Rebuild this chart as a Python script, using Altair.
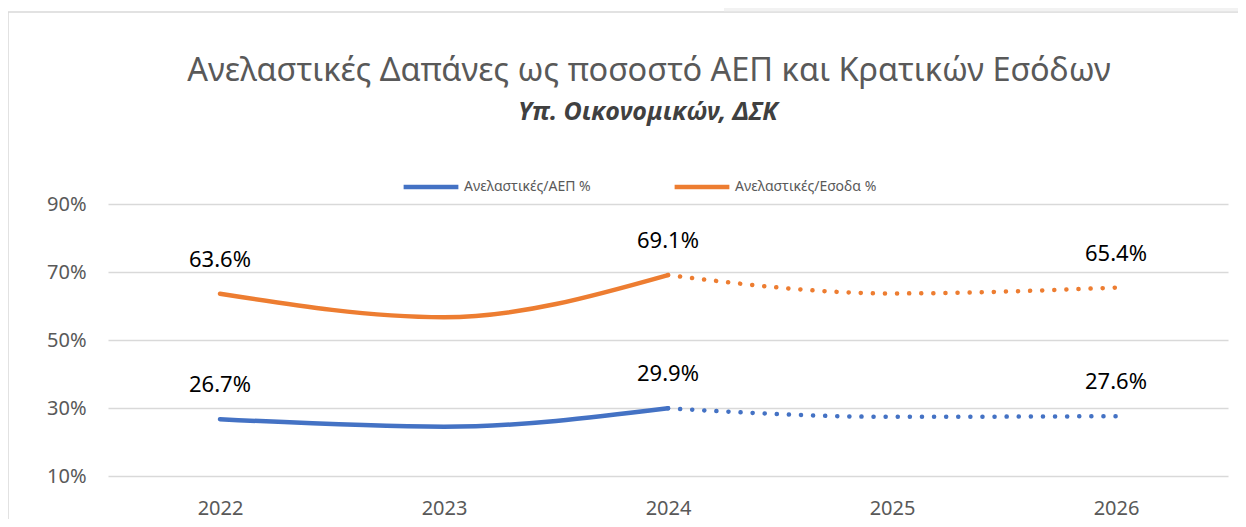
import altair as alt
import pandas as pd

years = ["2022", "2023", "2024", "2025", "2026"]
series_names = ["Ανελαστικές/ΑΕΠ %", "Ανελαστικές/Εσοδα %"]
gdp_pct = [26.7, 24.5, 29.9, 27.4, 27.6]
rev_pct = [63.6, 56.7, 69.1, 63.7, 65.4]
labelled_years = ["2022", "2024", "2026"]
actual_years = ["2022", "2023", "2024"]
projected_years = ["2024", "2025", "2026"]
colors = ["#4472C4", "#ED7D31"]
y_ticks = [10, 30, 50, 70, 90]

title_text = "Ανελαστικές Δαπάνες ως ποσοστό ΑΕΠ και Κρατικών Εσόδων"
subtitle_text = "Υπ. Οικονομικών, ΔΣΚ"

rows = []
for name, vals in zip(series_names, [gdp_pct, rev_pct]):
    for yr, v in zip(years, vals):
        rows.append({"year": yr, "series": name, "value": v})
df = pd.DataFrame(rows)
df_actual = df[df["year"].isin(actual_years)]
df_proj = df[df["year"].isin(projected_years)]
df_lab = df[df["year"].isin(labelled_years)]

FONT = "Noto Sans"
W, H = 1120, 272

x_enc = alt.X("year:O", sort=years, scale=alt.Scale(domain=years, padding=0.5),
              axis=alt.Axis(title=None, labelAngle=0, labelFontSize=20, labelColor="#595959",
                            labelFont=FONT, labelPadding=22, domain=False, ticks=False, grid=False))
y_enc = alt.Y("value:Q", scale=alt.Scale(domain=[10, 90], nice=False, zero=False),
              axis=alt.Axis(title=None, values=y_ticks, labelExpr="datum.value + '%'",
                            labelFontSize=20, labelColor="#595959", labelFont=FONT,
                            labelPadding=22, domain=False, ticks=False, grid=True,
                            gridColor="#D9D9D9", gridWidth=1.3))
color_enc = alt.Color("series:N", scale=alt.Scale(domain=series_names, range=colors),
                      sort=series_names,
                      legend=alt.Legend(title=None, orient="none", legendX=293, legendY=-47,
                                        direction="horizontal", symbolType="stroke",
                                        symbolSize=3000, symbolStrokeWidth=4.5,
                                        symbolDash=[1, 0], labelFontSize=14,
                                        labelColor="#595959", labelFont=FONT,
                                        labelOffset=3, columnPadding=74))

one = pd.DataFrame({"a": [0]})

frame = alt.Chart(one).mark_rect(
    fillOpacity=0, stroke="#D9D9D9", strokeWidth=1.5
).encode(x=alt.value(-100), x2=alt.value(W + 40), y=alt.value(-192), y2=alt.value(H + 120))

corner = alt.Chart(one).mark_rect(fill="#F2F2F2").encode(
    x=alt.value(616), x2=alt.value(W + 40), y=alt.value(-197), y2=alt.value(-192.8))

title_mark = alt.Chart(one).mark_text(
    text=title_text, fontSize=32.5, font=FONT, color="#595959", align="center", baseline="middle"
).encode(x=alt.value(541), y=alt.value(-133))

subtitle_mark = alt.Chart(one).mark_text(
    text=subtitle_text, fontSize=25, font=FONT, fontStyle="italic", fontWeight="bold",
    color="#404040", align="center", baseline="middle"
).encode(x=alt.value(540), y=alt.value(-92))

solid = alt.Chart(df_actual).mark_line(
    interpolate="monotone", strokeWidth=4.5, strokeCap="round"
).encode(x=x_enc, y=y_enc, color=color_enc, detail="series:N")

dotted = alt.Chart(df_proj).mark_line(
    interpolate="monotone", strokeWidth=4.5, strokeCap="round", strokeDash=[0.1, 12]
).encode(x=x_enc, y=y_enc, color=alt.Color("series:N", legend=None), detail="series:N")

labels = alt.Chart(df_lab).transform_calculate(
    lab="format(datum.value, '.1f') + '%'"
).mark_text(fontSize=22, font=FONT, color="black", dy=-34, baseline="middle").encode(
    x=x_enc, y=y_enc, text="lab:N"
)

chart = alt.layer(frame, corner, title_mark, subtitle_mark, solid, dotted, labels).properties(
    width=W, height=H,
    padding={"left": 100, "top": 196, "right": 10, "bottom": 43},
    autosize=alt.AutoSizeParams(type="none"),
).configure_view(stroke=None)

chart.save("out.html", embed_options={"renderer": "svg", "actions": False})
